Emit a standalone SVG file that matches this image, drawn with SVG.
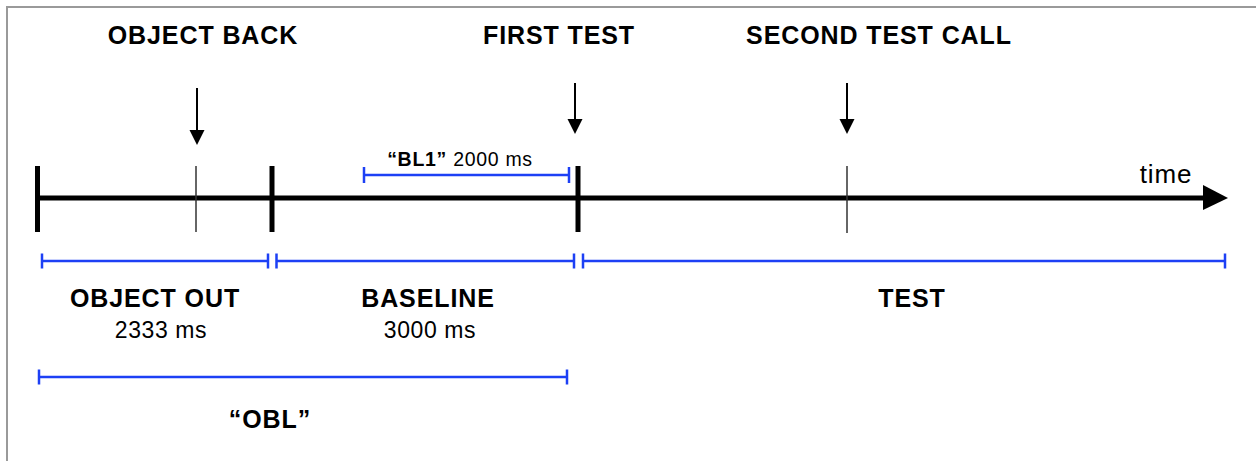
<svg xmlns="http://www.w3.org/2000/svg" width="1256" height="461" viewBox="0 0 1256 461">
<style>
.t{font-family:"Liberation Sans",Arial,sans-serif;fill:#000}
.h{font-size:25px;font-weight:bold;letter-spacing:0.9px}
.r{font-size:23px;letter-spacing:0.6px}
.ax{stroke:#000;stroke-width:5;fill:none}
.thick{stroke:#000;stroke-width:5}
.thin{stroke:#333;stroke-width:1.5}
.arr{stroke:#000;stroke-width:2}
.blue{stroke:#1d40f5;stroke-width:2.5;fill:none}
</style>
<rect x="0" y="0" width="1256" height="461" fill="#fff"/>
<path d="M7 461 V7 H1256" stroke="#9a9a9a" stroke-width="2" fill="none"/>
<g id="connectors">
<line class="ax" x1="38" y1="198" x2="1206" y2="198"/>
<polygon points="1203,185 1228,198 1203,210" fill="#000"/>
<line class="arr" x1="197" y1="88" x2="197" y2="132"/>
<polygon points="189.5,130 204.5,130 197,145" fill="#000"/>
<line class="arr" x1="575" y1="83" x2="575" y2="121"/>
<polygon points="567.5,119 582.5,119 575,134" fill="#000"/>
<line class="arr" x1="847" y1="83" x2="847" y2="121"/>
<polygon points="839.5,119 854.5,119 847,134" fill="#000"/>
</g>
<g id="ticks">
<line class="thick" x1="37.5" y1="166" x2="37.5" y2="232"/>
<line class="thin" x1="196" y1="166" x2="196" y2="232"/>
<line class="thick" x1="272" y1="166" x2="272" y2="232"/>
<line class="thick" x1="578" y1="166" x2="578" y2="232"/>
<line class="thin" x1="847" y1="166" x2="847" y2="233"/>
</g>
<g id="object-back"><text class="t h" x="203" y="44" text-anchor="middle">OBJECT BACK</text></g>
<g id="first-test"><text class="t h" x="559" y="44" text-anchor="middle">FIRST TEST</text></g>
<g id="second-test-call"><text class="t h" x="879" y="44" text-anchor="middle">SECOND TEST CALL</text></g>
<g id="time"><text class="t" x="1166" y="183" text-anchor="middle" style="font-size:26px;letter-spacing:0.8px">time</text></g>
<g id="bl1">
<path class="blue" d="M364 175 H569 M364 167 V183 M569 167 V183"/>
<text class="t" x="460" y="166" text-anchor="middle" style="font-size:19.5px;letter-spacing:0.7px"><tspan font-weight="bold">“BL1”</tspan> 2000 ms</text>
</g>
<g id="object-out">
<path class="blue" d="M42 261 H268 M42 253.5 V268.5 M268 253.5 V268.5"/>
<text class="t h" x="155" y="307" text-anchor="middle">OBJECT OUT</text>
<text class="t r" x="161" y="338" text-anchor="middle">2333 ms</text>
</g>
<g id="baseline">
<path class="blue" d="M276.5 261 H574 M276.5 253.5 V268.5 M574 253.5 V268.5"/>
<text class="t h" x="428" y="307" text-anchor="middle">BASELINE</text>
<text class="t r" x="430" y="338" text-anchor="middle">3000 ms</text>
</g>
<g id="test">
<path class="blue" d="M583 261 H1225 M583 253.5 V268.5 M1225 253.5 V268.5"/>
<text class="t h" x="912" y="307" text-anchor="middle">TEST</text>
</g>
<g id="obl">
<path class="blue" d="M39 377 H567 M39 369.5 V384.5 M567 369.5 V384.5"/>
<text class="t h" x="270" y="428" text-anchor="middle">“OBL”</text>
</g>
</svg>
